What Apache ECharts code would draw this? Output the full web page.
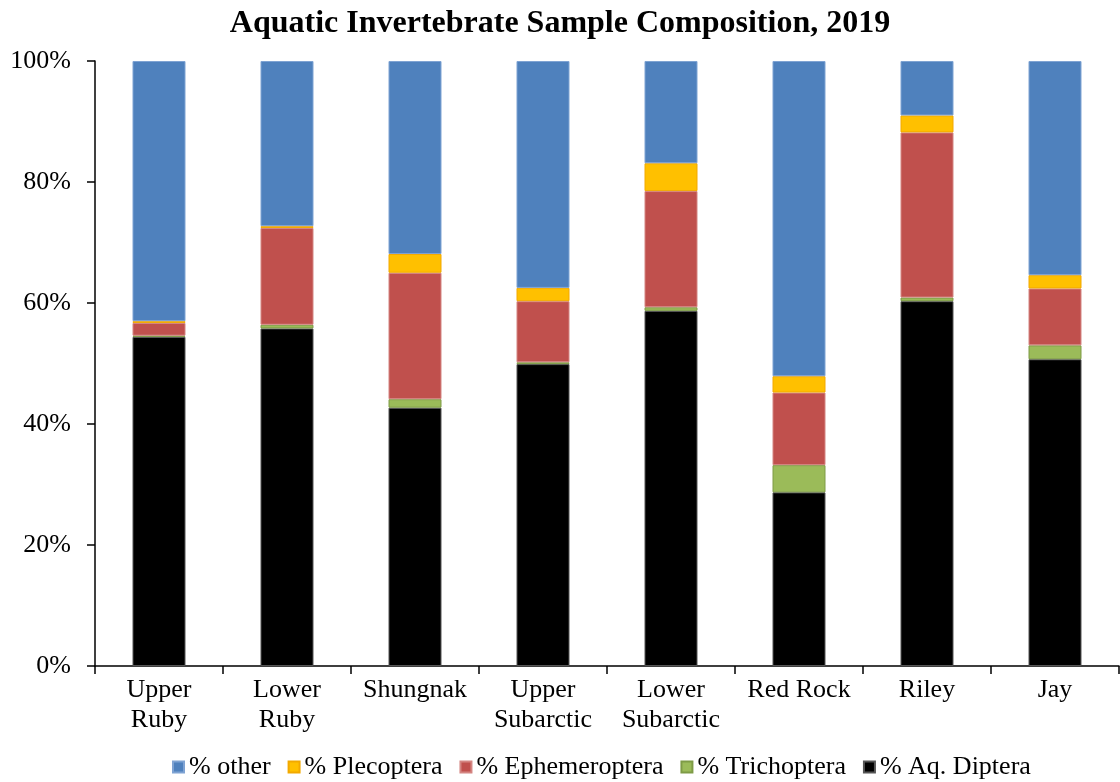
<!DOCTYPE html>
<html>
<head>
<meta charset="utf-8">
<title>Aquatic Invertebrate Sample Composition, 2019</title>
<script src="https://cdn.jsdelivr.net/npm/echarts@6/dist/echarts.min.js"></script>
<style>
  html, body { margin: 0; padding: 0; background: #fff; }
  #chart { width: 1120px; height: 782px; }
</style>
</head>
<body>
<div id="chart"></div>
<script>
// sites (x categories)
const sites = ['Upper\nRuby', 'Lower\nRuby', 'Shungnak', 'Upper\nSubarctic', 'Lower\nSubarctic', 'Red Rock', 'Riley', 'Jay']

// percent of sample, stacked bottom -> top
const aqDiptera = [54.4, 55.8, 42.7, 49.9, 58.7, 28.7, 60.3, 50.7]
const trichoptera = [0.2, 0.6, 1.4, 0.3, 0.6, 4.5, 0.6, 2.3]
const ephemeroptera = [2.1, 16.0, 20.9, 10.1, 19.2, 12.0, 27.3, 9.4]
const plecoptera = [0.3, 0.3, 3.1, 2.2, 4.6, 2.7, 2.8, 2.2]
const other = [43.0, 27.3, 31.9, 37.5, 16.9, 52.1, 9.0, 35.4]

const yTicks = [0, 20, 40, 60, 80, 100]

const font = 'Liberation Serif, Times New Roman, serif'

const chart = echarts.init(document.getElementById('chart'))

// helper for one stacked series
const makeSeries = (name, data, color, border) => ({
  name,
  type: 'bar',
  stack: 'total',
  barWidth: 53,
  data,
  itemStyle: { color, borderColor: border, borderWidth: 1 },
  emphasis: { disabled: true }
})

const option = {
  animation: false,
  title: {
    text: 'Aquatic Invertebrate Sample Composition, 2019',
    left: 'center',
    top: 3,
    textStyle: { fontFamily: font, fontSize: 32, fontWeight: 'bold', color: '#000' }
  },
  legend: {
    data: ['% other', '% Plecoptera', '% Ephemeroptera', '% Trichoptera', '% Aq. Diptera'],
    bottom: -3,
    left: 167,
    icon: 'rect',
    itemWidth: 11,
    itemHeight: 11,
    itemGap: 17,
    textStyle: { fontFamily: font, fontSize: 26, color: '#000' }
  },
  grid: {
    left: 95,
    right: 1,
    top: 61,
    bottom: 116
  },
  xAxis: {
    type: 'category',
    data: sites,
    axisLine: { lineStyle: { color: '#000', width: 1.5 } },
    axisTick: { show: true, interval: 0, length: 8, lineStyle: { color: '#000', width: 1.5 } },
    axisLabel: { interval: 0, fontFamily: font, fontSize: 26, color: '#000', lineHeight: 30, margin: 9 }
  },
  yAxis: {
    type: 'value',
    min: yTicks[0],
    max: yTicks[yTicks.length - 1],
    interval: 20,
    splitLine: { show: false },
    axisLine: { show: true, lineStyle: { color: '#000', width: 1.5 } },
    axisTick: { show: true, length: 8, lineStyle: { color: '#000', width: 1.5 } },
    axisLabel: { formatter: '{value}%', fontFamily: font, fontSize: 26, color: '#000', margin: 24 }
  },
  series: [
    makeSeries('% Aq. Diptera', aqDiptera, '#000000', '#555555'),
    makeSeries('% Trichoptera', trichoptera, '#9BBB59', '#7E9B46'),
    makeSeries('% Ephemeroptera', ephemeroptera, '#C0504D', '#D48582'),
    makeSeries('% Plecoptera', plecoptera, '#FFC000', '#F2A900'),
    makeSeries('% other', other, '#4F81BD', '#7FA3D3')
  ]
}

chart.setOption(option)
window.addEventListener('resize', () => chart.resize())
</script>
</body>
</html>
